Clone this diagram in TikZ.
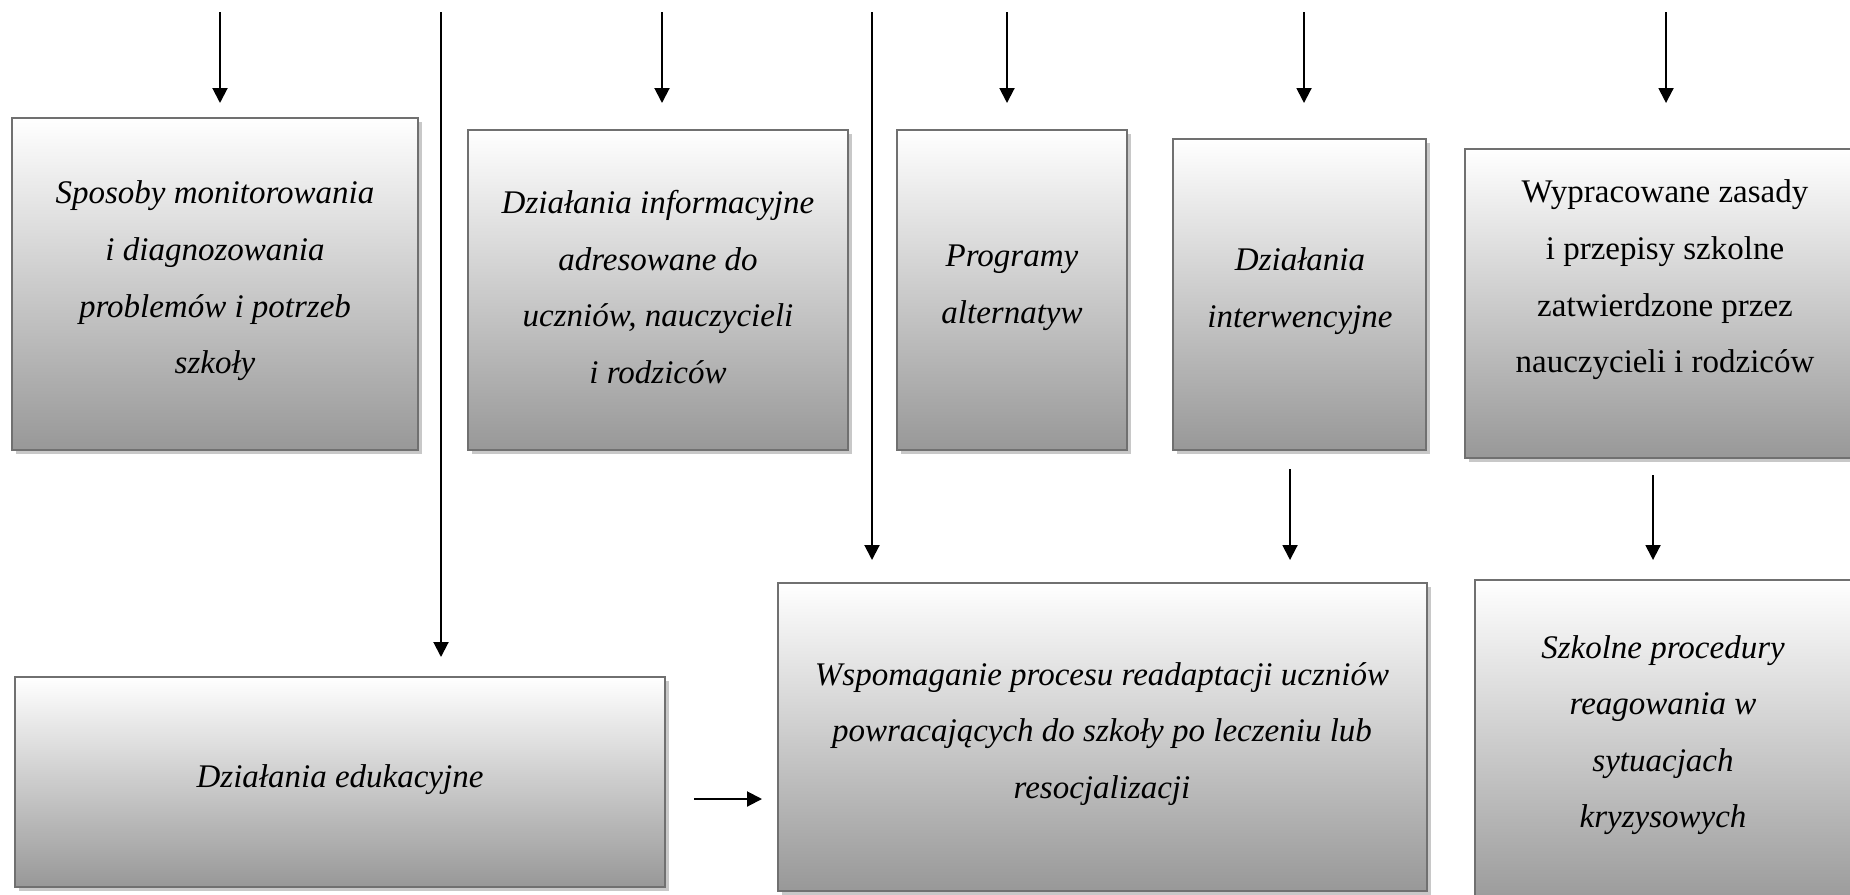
\documentclass[tikz,border=0pt]{standalone}
\usepackage{fontspec}
\setmainfont{Liberation Serif}
\usetikzlibrary{arrows.meta,shadows}
\definecolor{boxedge}{RGB}{112,112,112}
\definecolor{boxbottom}{RGB}{152,152,152}
\definecolor{shadowgray}{RGB}{200,200,200}
\tikzset{
  box/.style={draw=boxedge, line width=1.1pt, rectangle, inner sep=0pt,
    top color=white, bottom color=boxbottom,
    drop shadow={shadow xshift=2pt, shadow yshift=-2pt, fill=shadowgray, opacity=1}},
  txt/.style={align=center, inner sep=0pt, font=\fontsize{16.5}{28.3}\selectfont\itshape},
  txtup/.style={align=center, inner sep=0pt, font=\fontsize{16.5}{28.3}\selectfont},
  arr/.style={line width=1pt, -{Triangle[width=7.5pt,length=7.5pt]}},
}
\begin{document}
\begin{tikzpicture}[x=0.5pt,y=-0.5pt]
\useasboundingbox (0,0) rectangle (1850,894);
\clip (0,0) rectangle (1850,894);
% boxes
\node[box, minimum width=203pt, minimum height=166pt] (b1) at (215,284) {};
\node[box, minimum width=190pt, minimum height=160pt] (b2) at (658,290) {};
\node[box, minimum width=115pt, minimum height=160pt] (b3) at (1012,290) {};
\node[box, minimum width=126.5pt, minimum height=155.5pt] (b4) at (1299.5,294.5) {};
\node[box, minimum width=200.5pt, minimum height=154.5pt] (b5) at (1665.5,303.5) {};
\node[box, minimum width=325pt, minimum height=105pt] (b6) at (340,782) {};
\node[box, minimum width=324.5pt, minimum height=154pt] (b7) at (1102.5,737) {};
\node[box, minimum width=190pt, minimum height=165pt] (b8) at (1665,745) {};
% texts
\node[txt] (t1) at (215,281) {Sposoby monitorowania\\i diagnozowania\\problemów i potrzeb\\szkoły};
\node[txt] (t2) at (658,287) {Działania informacyjne\\adresowane do\\uczniów, nauczycieli\\i rodziców};
\node[txt] (t3) at (1012,288) {Programy\\alternatyw};
\node[txt] (t4) at (1300,291) {Działania\\interwencyjne};
\node[txtup] (t5) at (1665,280) {Wypracowane zasady\\i przepisy szkolne\\zatwierdzone przez\\nauczycieli i rodziców};
\node[txt] (t6) at (340,780) {Działania edukacyjne};
\node[txt] (t7) at (1102,734) {Wspomaganie procesu readaptacji uczniów\\powracających do szkoły po leczeniu lub\\resocjalizacji};
\node[txt] (t8) at (1663,735) {Szkolne procedury\\reagowania w\\sytuacjach\\kryzysowych};
% connector ends
\coordinate (s1) at (220,12);   \coordinate (e1) at (220,103);
\coordinate (s2) at (441,12);   \coordinate (e2) at (441,657);
\coordinate (s3) at (662,12);   \coordinate (e3) at (662,103);
\coordinate (s4) at (872,12);   \coordinate (e4) at (872,560);
\coordinate (s5) at (1007,12);  \coordinate (e5) at (1007,103);
\coordinate (s6) at (1304,12);  \coordinate (e6) at (1304,103);
\coordinate (s7) at (1666,12);  \coordinate (e7) at (1666,103);
\coordinate (s8) at (1290,469); \coordinate (e8) at (1290,560);
\coordinate (s9) at (1653,475); \coordinate (e9) at (1653,560);
\coordinate (s10) at (694,799); \coordinate (e10) at (762,799);
\foreach \i in {1,...,10} {\draw[arr] (s\i) -- (e\i);}
\end{tikzpicture}
\end{document}
